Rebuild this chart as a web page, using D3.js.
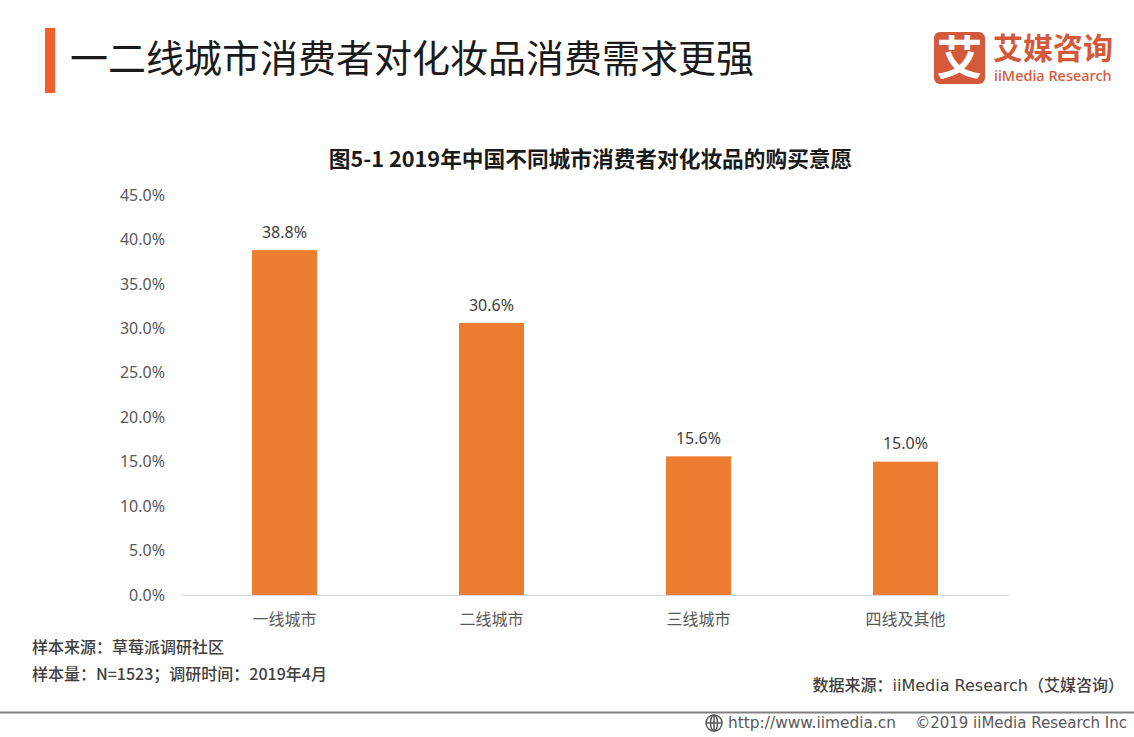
<!DOCTYPE html>
<html>
<head>
<meta charset="utf-8">
<script src="https://d3js.org/d3.v7.min.js"></script>
<style>
html, body { margin: 0; padding: 0; background: #fff; }
svg { display: block; }
text { font-family: "Noto Sans CJK SC", "Noto Sans", sans-serif; }
.latin { font-family: "DejaVu Sans", "Noto Sans CJK SC", sans-serif; }
</style>
</head>
<body>
<div id="chart"></div>
<script>
var categories = ["一线城市", "二线城市", "三线城市", "四线及其他"];
var values = [38.8, 30.6, 15.6, 15.0];
var yTicks = [0, 5, 10, 15, 20, 25, 30, 35, 40, 45];

var pageTitle = "一二线城市消费者对化妆品消费需求更强";
var chartTitle = "图5-1 2019年中国不同城市消费者对化妆品的购买意愿";
var sampleLines = ["样本来源：草莓派调研社区", "样本量：N=1523；调研时间：2019年4月"];
var sourceText = "数据来源：iiMedia Research（艾媒咨询）";

var width = 1134, height = 737;

var svg = d3.select("#chart").append("svg")
    .attr("width", width)
    .attr("height", height);

// header
svg.append("rect").attr("x", 45).attr("y", 28).attr("width", 10).attr("height", 65).attr("fill", "#f4602c");
svg.append("text").attr("x", 70).attr("y", 72)
    .attr("font-size", 38).attr("fill", "#1a1a1a")
    .text(pageTitle);

// logo
svg.append("rect").attr("x", 934).attr("y", 32).attr("width", 51).attr("height", 52).attr("rx", 6).attr("fill", "#d4583a");
svg.append("text").attr("x", 959.5).attr("y", 74).attr("text-anchor", "middle")
    .attr("font-size", 46).attr("font-weight", 700).attr("fill", "#fff").text("艾");
svg.append("text").attr("x", 993).attr("y", 59)
    .attr("font-size", 30).attr("font-weight", 700).attr("fill", "#d4583a").text("艾媒咨询");
svg.append("text").attr("x", 994).attr("y", 81)
    .attr("font-size", 14.5).attr("font-weight", 500).attr("fill", "#d4583a")
    .style("font-family", "'Noto Sans', sans-serif").text("iiMedia Research");

// chart title
svg.append("text").attr("x", 590.5).attr("y", 167).attr("text-anchor", "middle")
    .attr("font-size", 21.7).attr("font-weight", 700).attr("fill", "#1a1a1a")
    .text(chartTitle);

// scales
var x = d3.scaleBand().domain(categories).range([181, 1009]).paddingInner(0.686).paddingOuter(0.343);
var y = d3.scaleLinear().domain([0, 45]).range([595, 195]);

// y axis
var yAxis = d3.axisLeft(y).tickValues(yTicks).tickSize(0).tickPadding(16)
    .tickFormat(function(d) { return d.toFixed(1) + "%"; });
var gy = svg.append("g").attr("transform", "translate(181,0)").call(yAxis);
gy.select(".domain").remove();
gy.selectAll("text").attr("font-size", 16).attr("fill", "#595959")
    .style("font-family", "'Noto Sans', sans-serif");

// bars
svg.selectAll("rect.bar").data(values).enter().append("rect")
    .attr("class", "bar")
    .attr("x", function(d, i) { return x(categories[i]); })
    .attr("y", function(d) { return y(d); })
    .attr("width", x.bandwidth())
    .attr("height", function(d) { return y(0) - y(d); })
    .attr("fill", "#ed7d31");

// x axis
var xAxis = d3.axisBottom(x).tickSize(0).tickPadding(19);
var gx = svg.append("g").attr("transform", "translate(0,595)").call(xAxis);
gx.select(".domain").attr("stroke", "#d9d9d9").attr("stroke-width", 1);
gx.selectAll("text").attr("font-size", 16).attr("fill", "#595959");

// value labels
svg.selectAll("text.val").data(values).enter().append("text")
    .attr("class", "val")
    .attr("x", function(d, i) { return x(categories[i]) + x.bandwidth() / 2; })
    .attr("y", function(d) { return y(d) - 12.5; })
    .attr("text-anchor", "middle")
    .attr("font-size", 16).attr("fill", "#404040")
    .style("font-family", "'Noto Sans', sans-serif")
    .text(function(d) { return d.toFixed(1) + "%"; });

// notes
svg.selectAll("text.note").data(sampleLines).enter().append("text")
    .attr("class", "note")
    .attr("x", 32)
    .attr("y", function(d, i) { return 653 + i * 27; })
    .attr("font-size", 16).attr("font-weight", 500).attr("fill", "#404040")
    .text(function(d) { return d; });

svg.append("text").attr("x", 1124).attr("y", 691).attr("text-anchor", "end")
    .attr("class", "latin")
    .attr("font-size", 16).attr("fill", "#404040").attr("font-weight", 500)
    .text(sourceText);

// footer
svg.append("line").attr("x1", 0).attr("x2", width).attr("y1", 712.5).attr("y2", 712.5)
    .attr("stroke", "#808080").attr("stroke-width", 2);

var globe = svg.append("g").attr("transform", "translate(714,723)")
    .attr("fill", "none").attr("stroke", "#595959").attr("stroke-width", 1.5);
globe.append("circle").attr("r", 8);
globe.append("ellipse").attr("rx", 3.5).attr("ry", 8);
globe.append("line").attr("x1", -8).attr("x2", 8);
globe.append("line").attr("y1", -8).attr("y2", 8);

svg.append("text").attr("x", 728).attr("y", 728).attr("class", "latin")
    .attr("font-size", 15.4).attr("fill", "#595959").text("http://www.iimedia.cn");
svg.append("text").attr("x", 1127).attr("y", 728).attr("text-anchor", "end").attr("class", "latin")
    .attr("font-size", 15).attr("fill", "#595959").text("©2019  iiMedia Research  Inc");
</script>
</body>
</html>
